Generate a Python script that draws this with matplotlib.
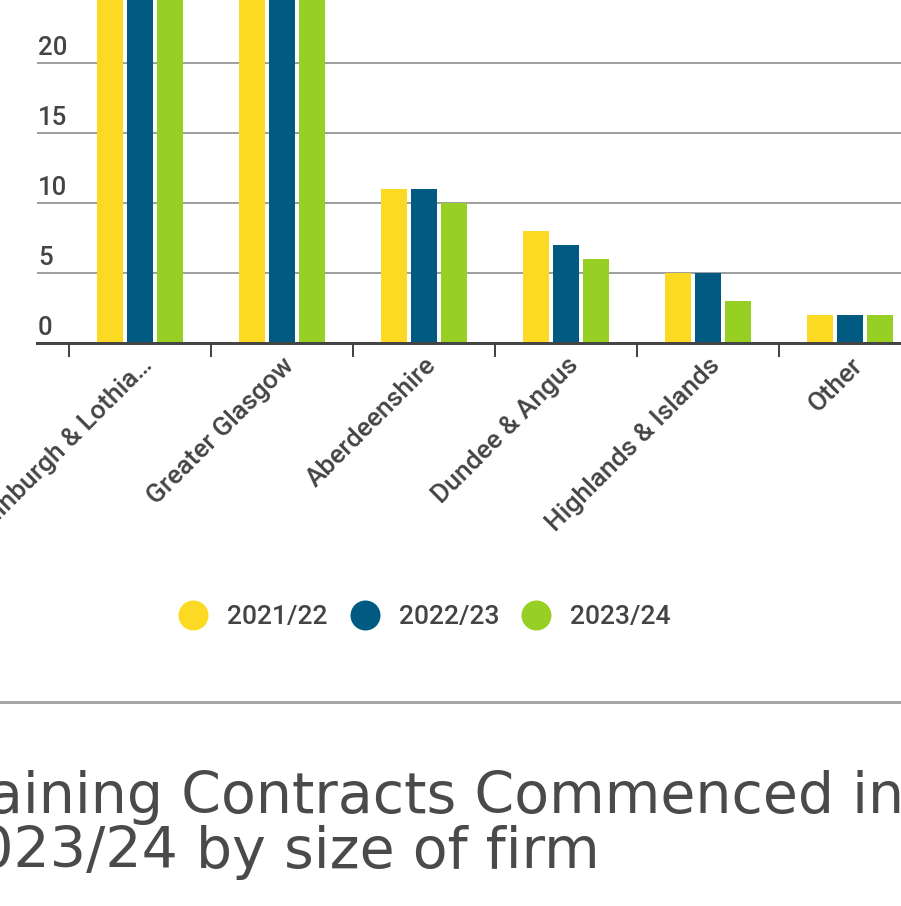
import matplotlib.pyplot as plt
from matplotlib.lines import Line2D
from matplotlib import transforms

# data (first two groups run off the top of the crop, values estimated)
regions = ['Edinburgh & Lothia…', 'Greater Glasgow', 'Aberdeenshire',
           'Dundee & Angus', 'Highlands & Islands', 'Other']
years = ['2021/22', '2022/23', '2023/24']
vals_2122 = [62, 45, 11, 8, 5, 2]
vals_2223 = [58, 41, 11, 7, 5, 2]
vals_2324 = [67, 47, 10, 6, 3, 2]
colors = ['#fcda24', '#005a82', '#97cf24']
yticks = [0, 5, 10, 15, 20]

W, H = 901, 906
fig = plt.figure(figsize=(W / 100, H / 100), dpi=100)
fig.patch.set_facecolor('white')

# axes: left edge at x=37px, zero line at y=343px, top at image top
ax = fig.add_axes([37 / W, (H - 343) / H, 864 / W, 343 / H])

bw = 26 / 142
step = 30 / 142
series = [vals_2122, vals_2223, vals_2324]
for k, vals in enumerate(series):
    xs = [i + (k - 1) * step for i in range(len(regions))]
    ax.bar(xs, vals, width=bw, color=colors[k], zorder=3, linewidth=0)

# gridlines
ax.set_yticks(yticks)
ax.yaxis.grid(True, color='#a0a0a0', linewidth=1.44, zorder=0)
ax.tick_params(axis='y', length=0, labelleft=False)
ax.set_axisbelow(True)

# ticks sit on category boundaries
ax.set_xticks([i - 0.5 for i in range(len(regions))])
ax.tick_params(axis='x', length=10, width=1.44, color='#444444',
               labelbottom=False, direction='out')

# limits set after the ticks so they are not widened
ax.set_xlim(-0.725, 5.36)
ax.set_ylim(0, 343 / 14)

for s in ['top', 'right', 'left']:
    ax.spines[s].set_visible(False)
ax.spines['bottom'].set_color('#444444')
ax.spines['bottom'].set_linewidth(2.16)
ax.spines['bottom'].set_zorder(4)

font = dict(family='Roboto', color='#444444', weight='medium')

# y labels above the gridlines, left aligned
ytrans = transforms.blended_transform_factory(ax.transAxes, ax.transData)
ytrans = transforms.offset_copy(ytrans, fig=fig, x=1, y=8, units='dots')
for v in yticks:
    ax.text(0, v, str(v), transform=ytrans, ha='left', va='baseline',
            size=18.5, **font)

# rotated category labels
xtrans = transforms.offset_copy(ax.get_xaxis_transform(), fig=fig,
                                x=0, y=-10, units='dots')
for i, name in enumerate(regions):
    ax.text(i, 0, name, transform=xtrans, rotation=45, rotation_mode='anchor',
            ha='right', va='top', clip_on=False, size=19, **font)

# legend
handles = [Line2D([], [], marker='o', ls='', ms=21.6, color=c,
                  markeredgewidth=0) for c in colors]
leg = fig.legend(handles, years, loc='center', ncol=3, frameon=False,
                 bbox_to_anchor=(424.5 / W, 1 - 617 / H),
                 handlelength=1.14, handletextpad=0.72, columnspacing=0.83,
                 prop=dict(family='Roboto', size=19, weight='medium'))
for t in leg.get_texts():
    t.set_color('#444444')

# separator line
fig.add_artist(Line2D([0, 1], [1 - 702 / H] * 2, transform=fig.transFigure,
                      color='#a6a6a6', linewidth=2.16))

# title of the next chart, cut off at both sides
fig.text(-62 / W, 1 - 813 / H, 'Training Contracts Commenced in',
         family='DejaVu Sans', size=41, color='#4a4a4a', va='baseline')
fig.text(600 / W, 1 - 868 / H, '2023/24 by size of firm', ha='right',
         family='DejaVu Sans', size=41, color='#4a4a4a', va='baseline')

fig.savefig('out.png', dpi=100, facecolor='white')
